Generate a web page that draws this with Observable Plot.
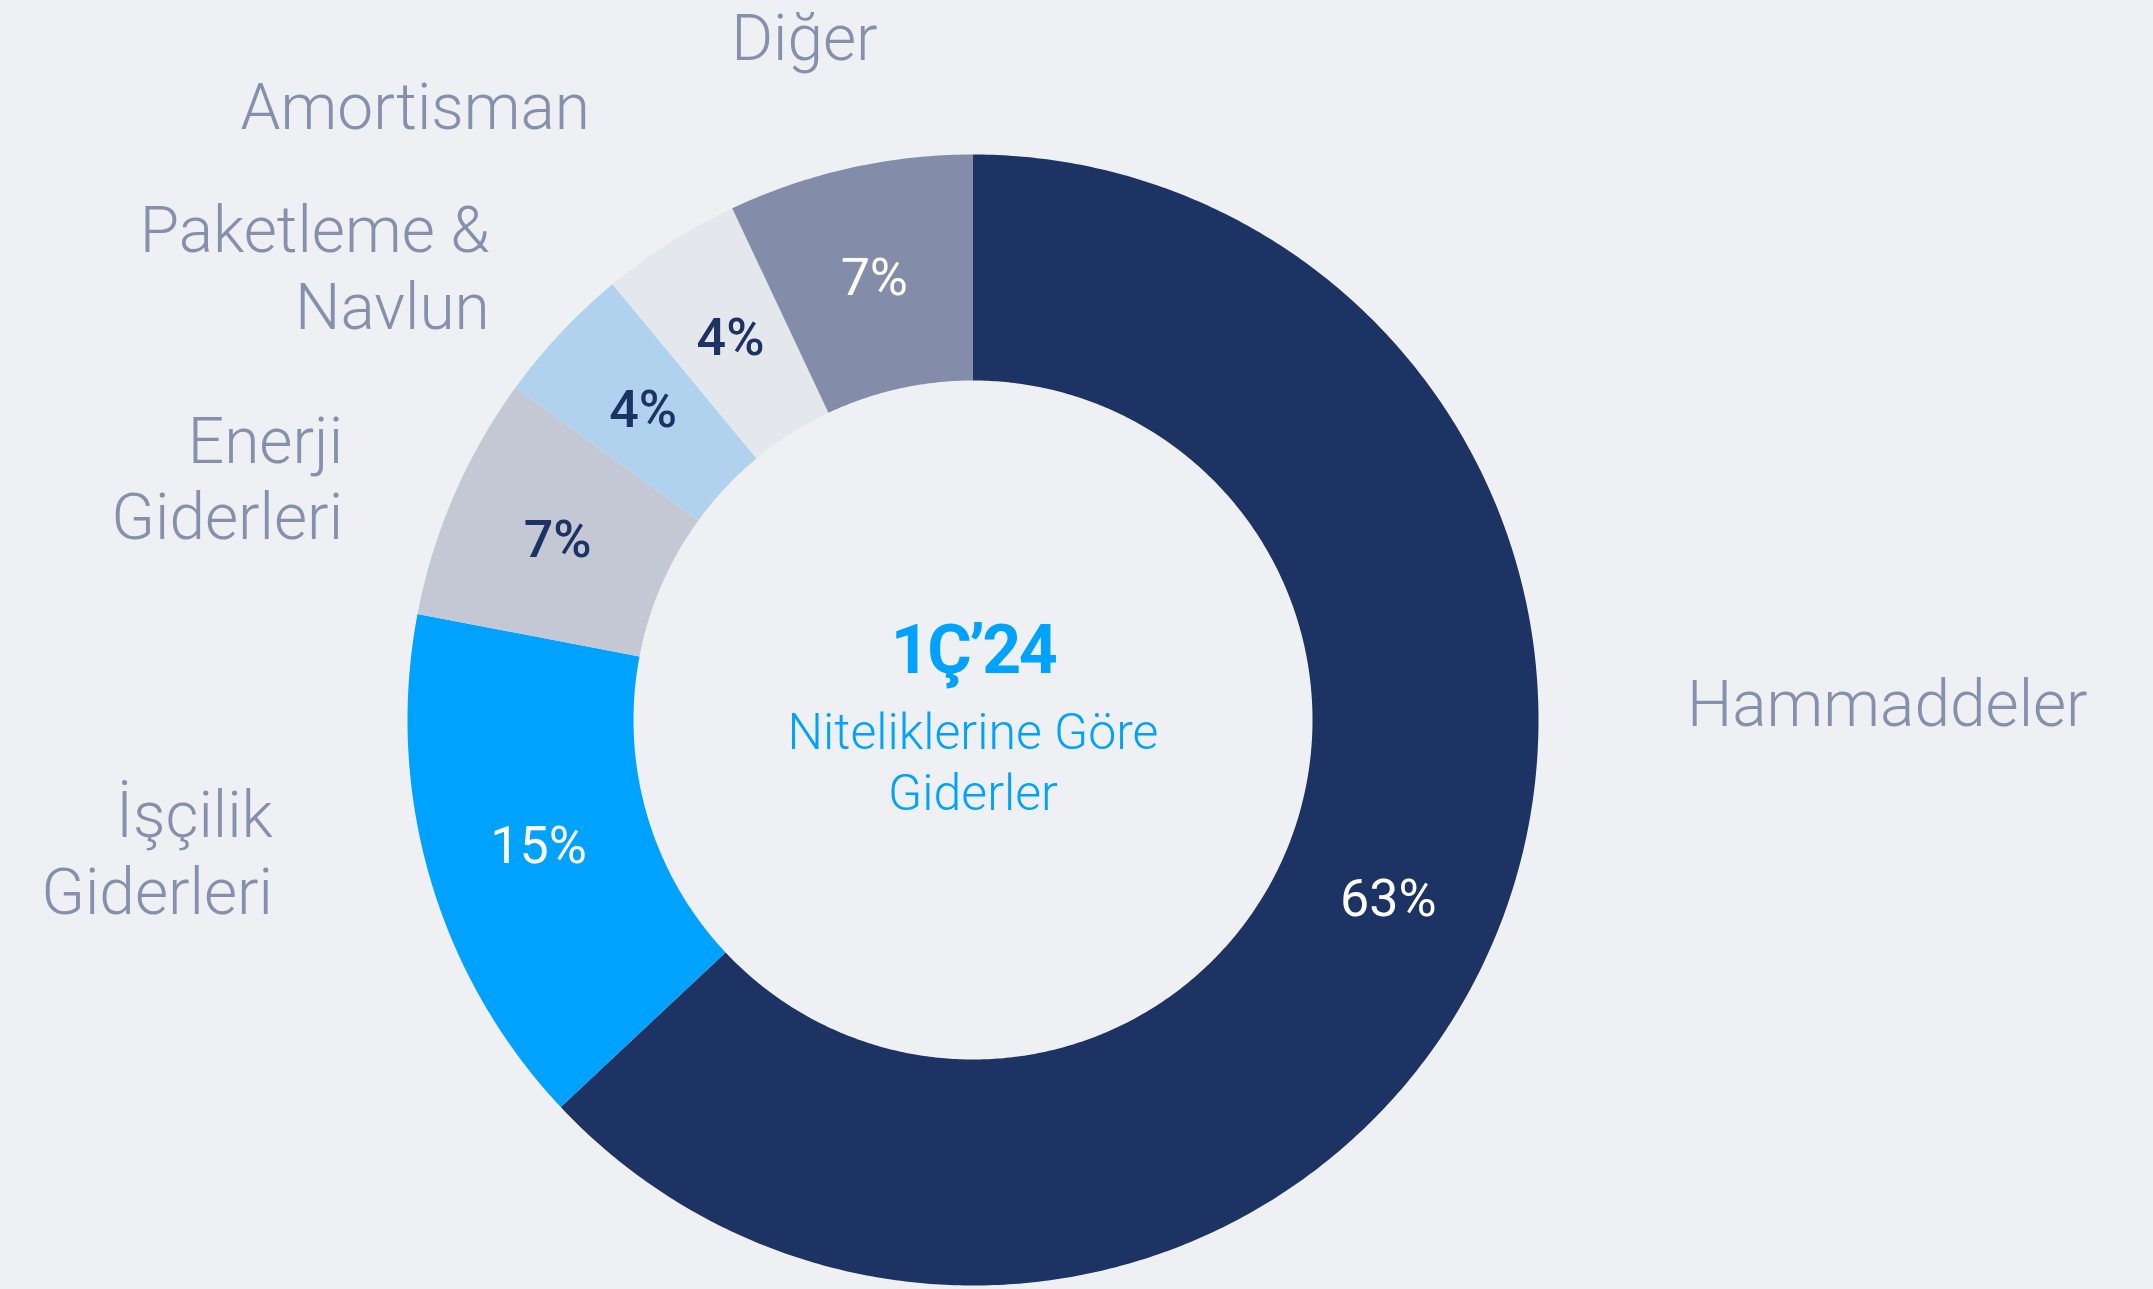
<!DOCTYPE html>
<html><head><meta charset="utf-8">
<script src="https://cdn.jsdelivr.net/npm/d3@7"></script>
<script src="https://cdn.jsdelivr.net/npm/@observablehq/plot@0.6"></script>
<style>
html,body{margin:0;padding:0;background:#eff0f4;}
#chart svg{display:block;}
</style></head><body><div id="chart"></div>
<script>
// ---- data ----
const categories = ["Hammaddeler","İşçilik Giderleri","Enerji Giderleri","Paketleme & Navlun","Amortisman","Diğer"];
const labelLines = ["Hammaddeler","İşçilik\nGiderleri","Enerji\nGiderleri","Paketleme &\nNavlun","Amortisman","Diğer"];
const shares = [63,15,7,4,4,7];
const centerTitle = "1Ç’24";
const centerSubtitle = "Niteliklerine Göre\nGiderler";

// ---- styles / layout ----
const sliceColors = ["#1d3364","#00a2ff","#c4c8d5","#b0d2ef","#e4e7ec","#838ca9"];
const valueInk = ["#ffffff","#ffffff","#1d3364","#1d3364","#1d3364","#ffffff"];
const valueWeight = [400,400,500,500,500,400];
const labelOffsets = [[195,-219,"start"],[-157,36,"end"],[-111,44,"end"],[-71,-4,"end"],[-80,-114,"end"],[28,-108,"end"]];
const W = 2153, H = 1289, CX = 972.5, CY = 719.5, R = 565.5, INNER = 339.5 / 565.5;
const labelColor = "#8590ad";
const accent = "#00a2ff";

// ---- geometry from data ----
const arcs = d3.pie().sort(null).value(d => d)(shares);
const polys = [];
arcs.forEach((a, i) => {
  const n = Math.max(2, Math.ceil((a.endAngle - a.startAngle) / (Math.PI / 360)));
  for (let k = 0; k <= n; k++) {
    const t = a.startAngle + (a.endAngle - a.startAngle) * k / n;
    polys.push({cat: categories[i], x: Math.sin(t), y: Math.cos(t)});
  }
  for (let k = n; k >= 0; k--) {
    const t = a.startAngle + (a.endAngle - a.startAngle) * k / n;
    polys.push({cat: categories[i], x: INNER * Math.sin(t), y: INNER * Math.cos(t)});
  }
});
const mids = arcs.map((a, i) => {
  const t = (a.startAngle + a.endAngle) / 2;
  const rm = (1 + INNER) / 2;
  return {i, cat: categories[i], label: labelLines[i], value: shares[i],
    mx: rm * Math.sin(t), my: rm * Math.cos(t), ox: Math.sin(t), oy: Math.cos(t)};
});

const marks = [
  Plot.line(polys, {x: "x", y: "y", z: "cat", fill: "cat", stroke: "none"}),
];
// value labels
mids.forEach(m => {
  marks.push(Plot.text([m], {x: "mx", y: "my", text: d => d.value + "%", fill: valueInk[m.i],
    fontSize: 52, fontWeight: valueWeight[m.i], fontFamily: "Roboto", lineAnchor: "middle"}));
});
// category labels
mids.forEach(m => {
  const [dx, dy, anchor] = labelOffsets[m.i];
  marks.push(Plot.text([m], {x: "ox", y: "oy", text: "label", dx, dy, textAnchor: anchor,
    lineAnchor: "bottom", lineHeight: 1.2, fill: labelColor, fontSize: 64, fontWeight: 300, fontFamily: "Roboto"}));
});
// center text
marks.push(Plot.text([centerTitle], {x: () => 0, y: () => 0, text: d => d, dy: -47.5, lineAnchor: "bottom",
  fill: accent, fontSize: 68, fontWeight: 700, fontFamily: "Roboto"}));
marks.push(Plot.text([centerSubtitle], {x: () => 0, y: () => 0, text: d => d, dy: 89.5, lineAnchor: "bottom",
  lineHeight: 1.22, fill: accent, fontSize: 50, fontWeight: 300, fontFamily: "Roboto"}));

const chart = Plot.plot({
  width: W, height: H, margin: 0,
  x: {domain: [-CX / R, (W - CX) / R], axis: null},
  y: {domain: [-(H - CY) / R, CY / R], axis: null},
  color: {domain: categories, range: sliceColors},
  style: {background: "#eff0f4", fontFamily: "Roboto"},
  marks
});
d3.select(chart).selectAll("text").filter(function() { return this.textContent === centerTitle; })
  .attr("letter-spacing", "-2.5px");
document.getElementById("chart").appendChild(chart);
</script></body></html>
